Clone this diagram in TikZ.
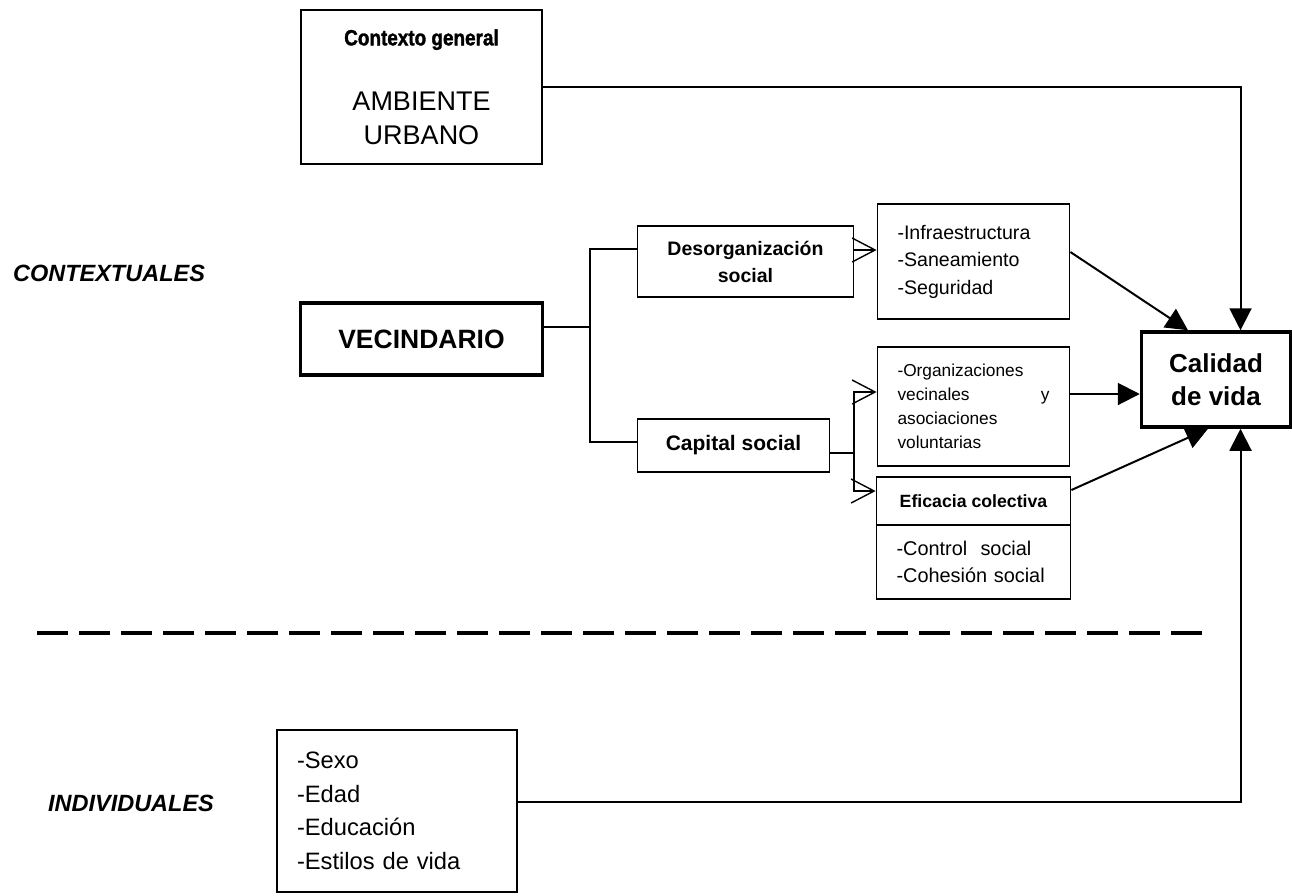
\documentclass[tikz,border=0pt]{standalone}
\usepackage{fontspec}
\setmainfont{Liberation Sans}
\newfontfamily\heavyfont[FakeBold=1.6,FakeStretch=0.86]{Liberation Sans Bold}
\usetikzlibrary{arrows.meta,positioning}

\begin{document}
\begin{tikzpicture}[x=1pt,y=-1pt,on grid,line width=2pt,
  >={Triangle[length=22pt,width=22pt]}]
 \tikzstyle{box}=[draw,line width=1.8pt,inner sep=0pt,align=center]
 \tikzstyle{thick box}=[box,line width=3.5pt]
 \tikzstyle{list}=[box,align=left,inner xsep=20pt]
 \tikzstyle{open}=[-{Straight Barb[length=23pt,width=24pt,line width=1.4pt]}]
 \tikzstyle{side}=[font=\fontsize{23.5}{28}\selectfont\bfseries\itshape]

\useasboundingbox (0,0) rectangle (1292,895);

\node[box,minimum width=241pt,minimum height=154pt,font=\fontsize{27}{33.5}\selectfont] (ctx) at (421.5,87)
  {{\heavyfont\fontsize{22}{22}\selectfont Contexto general}\\[32pt]AMBIENTE\\URBANO};
\node[thick box,minimum width=242pt,minimum height=72pt,font=\fontsize{26.5}{30}\selectfont\bfseries] (vec) [below=252pt of ctx] {VECINDARIO};

\node[box,minimum width=216pt,minimum height=71pt,font=\fontsize{19.5}{27}\selectfont\bfseries] (desorg) [above right=77.5pt and 324pt of vec] {Desorganización\\social};
\node[box,minimum width=192pt,minimum height=53pt,font=\fontsize{21}{25}\selectfont\bfseries] (capital) [below left=184pt and 12pt of desorg] {Capital social};

\node[list,text width=152pt,minimum height=115pt,font=\fontsize{19.6}{27.5}\selectfont] (infra) [right=228pt of desorg] {-Infraestructura\\-Saneamiento\\-Seguridad};
\node[list,text width=152pt,minimum height=119pt,font=\fontsize{17.3}{24}\selectfont] (org) [below=145pt of infra] {-Organizaciones\\vecinales\hfill y\\asociaciones\\voluntarias};
\node[box,minimum width=194pt,minimum height=48pt,font=\fontsize{17.7}{21}\selectfont\bfseries] (effTop) [below=94.5pt of org] {Eficacia colectiva};
\node[list,text width=154pt,minimum height=74pt,font=\fontsize{19.9}{27}\selectfont] (effBot) [below=61pt of effTop] {-Control~~social\\-Cohesión social};

\node[thick box,minimum width=149pt,minimum height=95pt,font=\fontsize{26}{33}\selectfont\bfseries] (calidad) [above right=27pt and 242.5pt of org] {Calidad\\de vida};

\node[list,text width=200pt,minimum height=162pt,font=\fontsize{23.7}{33.5}\selectfont] (sexo) at (397,811) {-Sexo\\-Edad\\-Educación\\-Estilos de vida};

\node[side] (contex) at (109,273) {CONTEXTUALES};
\node[side] (indiv) at (131,803) {INDIVIDUALES};

% vecindario branches
\coordinate (split) at (590,339);
\coordinate (v1) at ([yshift=12pt]vec.east);
\coordinate (d1) at ([yshift=12.5pt]desorg.west);
\coordinate (c1) at ([yshift=3.5pt]capital.west);
\draw (v1) -- (v1 -| split);
\draw (d1) -| (split) |- (c1);

\coordinate (d2) at ([yshift=11.5pt]desorg.east);
\draw[open] (d2) -- (d2 -| infra.west);

% capital social branches
\coordinate (c2) at ([yshift=-7.5pt]capital.east);
\coordinate (cs) at ([xshift=24pt]c2);
\coordinate (o1) at ([yshift=14.5pt]org.west);
\coordinate (e1) at ([yshift=10pt]effTop.west);
\draw (c2) -- (cs);
\draw[open] (cs) |- (o1);
\draw[open] (cs) |- (e1);

% into calidad de vida
\coordinate (ctop) at ([xshift=24.5pt]calidad.north);
\coordinate (cbot) at ([xshift=24.5pt]calidad.south);
\draw[->] (ctx.east) -| (ctop);
\coordinate (i1) at ([yshift=9.5pt]infra.east);
\draw[->] (i1) -- ([xshift=-28pt]calidad.north);
\coordinate (o2) at ([yshift=12.5pt]org.east);
\draw[->] (o2) -- (o2 -| calidad.west);
\coordinate (e2) at ([yshift=11pt]effTop.east);
\draw[->] (e2) -- ([xshift=-8pt]calidad.south);
\coordinate (s1) at ([yshift=9.5pt]sexo.east);
\draw[->] (s1) -| (cbot);

\draw[line width=3.5pt,dash pattern=on 31pt off 11pt] (37,633) -- (1212,633);

\end{tikzpicture}
\end{document}
